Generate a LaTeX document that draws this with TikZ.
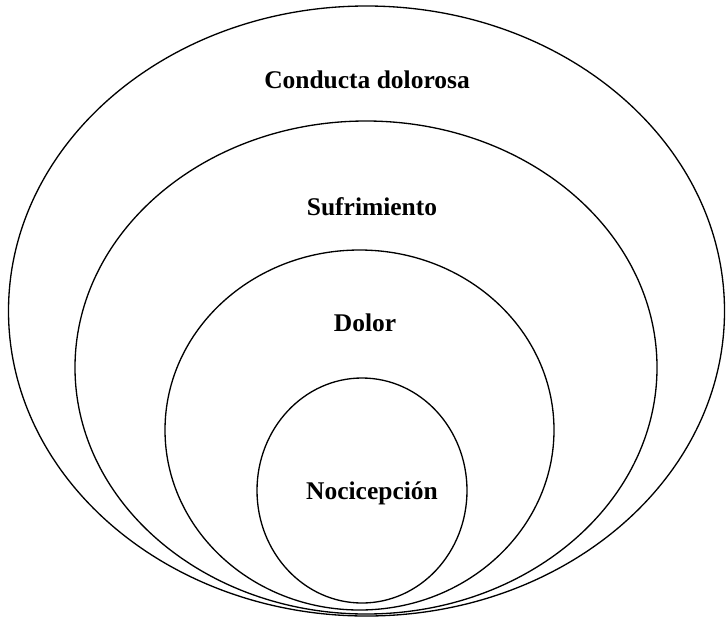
\documentclass[tikz,border=0pt]{standalone}
\usepackage{fontspec}
\setmainfont{Liberation Serif}
\usepackage{tikz}
\usetikzlibrary{positioning}

\tikzset{
  ring/.style={draw=black, line width=0.75pt},
  ringlabel/.style={font=\fontsize{14.5}{17}\selectfont\bfseries, inner sep=0pt}
}

\begin{document}
\begin{tikzpicture}[x=0.02cm, y=-0.02cm]
    \useasboundingbox (0,0) rectangle (726,619);
    % nested rings, all resting on the same bottom point
    \draw[ring] (366.5,311) ellipse [x radius=358, y radius=305];
    \draw[ring] (366,367.5) ellipse [x radius=291, y radius=246.5];
    \draw[ring] (359.5,430) ellipse [x radius=194.5, y radius=180];
    \draw[ring] (362,490.5) ellipse [x radius=105, y radius=112.5];
    % Labels
    \node[ringlabel] (conducta) at (367,80) {Conducta dolorosa};
    \node[ringlabel] (sufrim) at (372,207) {Sufrimiento};
    \node[ringlabel] (dolor) at (365,323) {Dolor};
    \node[ringlabel] (nocic) at (372,493) {Nocicepción};
\end{tikzpicture}
\end{document}
